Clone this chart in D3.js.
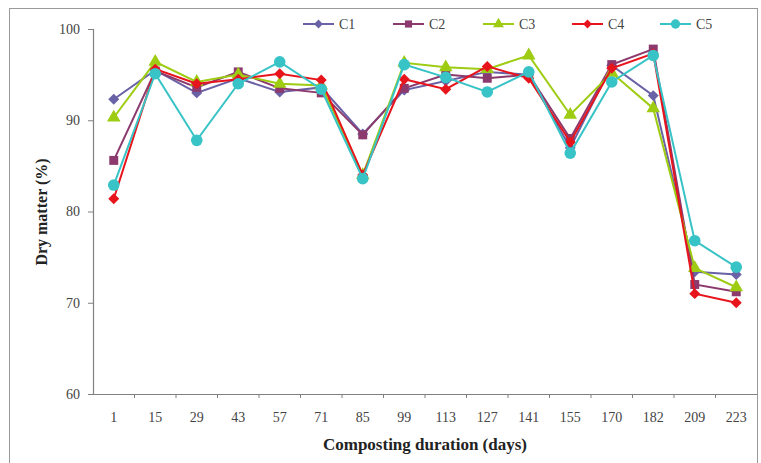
<!DOCTYPE html>
<html><head><meta charset="utf-8">
<script src="https://cdn.jsdelivr.net/npm/d3@7"></script>
<style>body{margin:0;background:#fff}svg{display:block}</style>
</head><body>
<svg id="c" width="761" height="463"></svg>
<script>
const categories = ["1","15","29","43","57","71","85","99","113","127","141","155","170","182","209","223"];
const C1 = [92.3,95.5,93.0,94.6,93.1,93.6,88.5,93.3,94.3,95.3,95.0,87.0,96.0,92.7,73.4,73.1];
const C2 = [85.6,95.4,93.6,95.3,93.5,93.0,88.4,93.5,95.0,94.6,95.0,88.0,96.1,97.8,72.0,71.2];
const C3 = [90.3,96.4,94.2,95.0,94.0,93.8,84.0,96.3,95.8,95.6,97.1,90.6,95.2,91.3,73.8,71.7];
const C4 = [81.4,95.6,94.0,94.5,95.1,94.4,84.0,94.5,93.4,95.9,94.6,87.6,95.7,97.3,71.0,70.0];
const C5 = [82.9,95.1,87.8,94.0,96.4,93.4,83.6,96.1,94.7,93.1,95.3,86.4,94.2,97.1,76.8,73.9];
const seriesNames = ["C1","C2","C3","C4","C5"];
const yTicks = [60,70,80,90,100];

const series = [
  {name:"C1", values:C1, color:"#6a62a6", shape:"diamond"},
  {name:"C2", values:C2, color:"#8c3a6e", shape:"square"},
  {name:"C3", values:C3, color:"#9dcc12", shape:"triangle"},
  {name:"C4", values:C4, color:"#e8141c", shape:"diamond"},
  {name:"C5", values:C5, color:"#38c3c6", shape:"circle"}
];

const svg = d3.select("#c");
const m = {l:93, r:757, t:29, b:394};
const x = d3.scaleBand().domain(categories).range([m.l, m.r]).padding(0);
const y = d3.scaleLinear().domain([60,100]).range([m.b, m.t]);

svg.append("rect").attr("x",9.5).attr("y",8.5).attr("width",748).attr("height",470)
  .attr("fill","none").attr("stroke","#9a9a9a").attr("stroke-width",1);

const font = "'Liberation Serif','Times New Roman',serif";

const ya = svg.append("g").attr("transform",`translate(${m.l},0)`)
  .call(d3.axisLeft(y).tickValues(yTicks).tickSize(5).tickPadding(8));
const xa = svg.append("g").attr("transform",`translate(0,${m.b})`)
  .call(d3.axisBottom(x).tickSize(0).tickPadding(18));
[ya,xa].forEach(g=>{
  g.select(".domain").attr("stroke","#808080").attr("stroke-width",1.2);
  g.selectAll(".tick line").attr("stroke","#808080");
  g.selectAll("text").attr("font-family",font).attr("font-size",14).attr("fill","#444");
});
xa.selectAll(".bnd").data(categories.slice(1)).enter().append("line")
  .attr("x1",d=>x(d)).attr("x2",d=>x(d)).attr("y1",0).attr("y2",4)
  .attr("stroke","#808080");

svg.append("text").attr("x",425).attr("y",450).attr("text-anchor","middle")
  .attr("font-family",font).attr("font-size",17).attr("font-weight","bold").attr("fill","#222")
  .text("Composting duration (days)");
svg.append("text").attr("transform","translate(47,212) rotate(-90)").attr("text-anchor","middle")
  .attr("font-family",font).attr("font-size",16).attr("font-weight","bold").attr("fill","#222")
  .text("Dry matter (%)");

const cx = d => x(d) + x.bandwidth()/2;
function marker(g, s, px, py, sz){
  if(s.shape==="circle"){
    g.append("circle").attr("cx",px).attr("cy",py).attr("r",sz*0.58).attr("fill",s.color);
  } else if(s.shape==="diamond"){
    g.append("path").attr("d",d3.symbol().type(d3.symbolSquare).size(sz*sz*0.6)())
      .attr("transform",`translate(${px},${py}) rotate(45)`).attr("fill",s.color);
  } else {
    const sym = s.shape==="square"? d3.symbolSquare : d3.symbolTriangle;
    const area = s.shape==="square"? sz*sz*0.8 : sz*sz*0.8;
    g.append("path").attr("d",d3.symbol().type(sym).size(area)())
      .attr("transform",`translate(${px},${py})`).attr("fill",s.color);
  }
}

const line = d3.line().x((d,i)=>cx(categories[i])).y(d=>y(d));
series.forEach(s=>{
  const g = svg.append("g");
  g.append("path").datum(s.values).attr("d",line).attr("fill","none")
    .attr("stroke",s.color).attr("stroke-width",2);
  s.values.forEach((v,i)=>marker(g,s,cx(categories[i]),y(v),10));
});

const legX = [303,393,483,572,660];
series.forEach((s,i)=>{
  const g = svg.append("g");
  const lx = legX[i], ly = 24;
  g.append("line").attr("x1",lx).attr("x2",lx+31).attr("y1",ly).attr("y2",ly)
    .attr("stroke",s.color).attr("stroke-width",2);
  marker(g,s,lx+15.5,ly,8);
  g.append("text").attr("x",lx+36).attr("y",ly+5).attr("font-family",font)
    .attr("font-size",14).attr("fill","#444").text(seriesNames[i]);
});
</script>
</body></html>
